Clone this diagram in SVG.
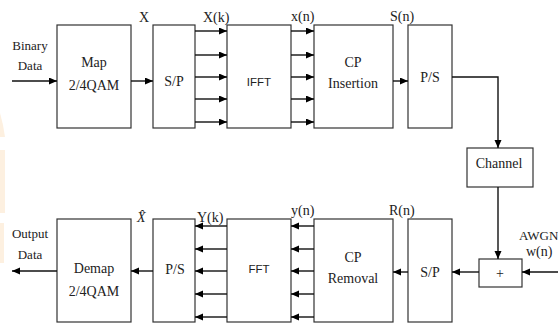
<svg xmlns="http://www.w3.org/2000/svg" width="558" height="324" viewBox="0 0 558 324">
  <defs>
    <marker id="arr" markerUnits="userSpaceOnUse" markerWidth="9" markerHeight="8" refX="8" refY="3.5" orient="auto">
      <path d="M0,0 L8,3.5 L0,7 z" fill="#000"/>
    </marker>
    <style>
      .box { fill: #fff; stroke: #333; stroke-width: 1.2; }
      .ln { fill: none; stroke: #111; stroke-width: 1.4; }
      .ar { fill: none; stroke: #111; stroke-width: 1.4; marker-end: url(#arr); }
      .t { font-family: "Liberation Serif", "Times New Roman", serif; font-size: 14px; fill: #222; }
      .s { font-size: 13px; }
      .m { text-anchor: middle; }
      .sans { font-family: "Liberation Sans", Arial, sans-serif; font-size: 11.5px; fill: #222; }
      .wm { fill: #fbe6cc; opacity: 0.6; }
    </style>
  </defs>
  <rect width="558" height="324" fill="#fff"/>

  <!-- faint edge marks -->
  <g id="edge-marks">
    <polygon class="wm" points="0,113 3,125 5,137 0,137"/>
    <rect class="wm" x="0" y="150" width="5" height="63"/>
    <rect class="wm" x="0" y="223" width="4" height="40"/>
  </g>

  <!-- transmitter -->
  <g id="map">
    <rect class="box" x="57" y="25" width="74" height="103"/>
    <text class="t m" x="94" y="67">Map</text>
    <text class="t m" x="94" y="90">2/4QAM</text>
  </g>
  <g id="sp-tx">
    <rect class="box" x="153" y="25" width="42" height="103"/>
    <text class="t m" x="174" y="86">S/P</text>
  </g>
  <g id="ifft">
    <rect class="box" x="227" y="25" width="64" height="103"/>
    <text class="sans m" x="259" y="86">IFFT</text>
  </g>
  <g id="cp-insertion">
    <rect class="box" x="314" y="25" width="79" height="103"/>
    <text class="t m" x="353" y="67">CP</text>
    <text class="t m" x="353" y="88">Insertion</text>
  </g>
  <g id="ps-tx">
    <rect class="box" x="408" y="25" width="44" height="103"/>
    <text class="t m" x="430" y="82">P/S</text>
  </g>

  <!-- channel -->
  <g id="channel">
    <rect class="box" x="467" y="148" width="66" height="39"/>
    <text class="t m" x="499" y="168">Channel</text>
  </g>
  <g id="adder">
    <rect class="box" x="479" y="259" width="43" height="28"/>
    <text class="t m" x="500" y="278">+</text>
  </g>

  <!-- receiver -->
  <g id="sp-rx">
    <rect class="box" x="408" y="219" width="44" height="103"/>
    <text class="t m" x="430" y="277">S/P</text>
  </g>
  <g id="cp-removal">
    <rect class="box" x="314" y="219" width="79" height="103"/>
    <text class="t m" x="353" y="262">CP</text>
    <text class="t m" x="353" y="283">Removal</text>
  </g>
  <g id="fft">
    <rect class="box" x="227" y="219" width="64" height="103"/>
    <text class="sans m" x="259" y="273">FFT</text>
  </g>
  <g id="ps-rx">
    <rect class="box" x="153" y="219" width="42" height="103"/>
    <text class="t m" x="175" y="274">P/S</text>
  </g>
  <g id="demap">
    <rect class="box" x="57" y="219" width="74" height="103"/>
    <text class="t m" x="94" y="273">Demap</text>
    <text class="t m" x="94" y="296">2/4QAM</text>
  </g>

  <!-- connectors -->
  <g id="connectors">
    <line class="ar" x1="12" y1="81" x2="57" y2="81"/>
    <line class="ar" x1="131" y1="81" x2="153" y2="81"/>
    <line class="ar" x1="195" y1="31" x2="227" y2="31"/>
    <line class="ar" x1="195" y1="55" x2="227" y2="55"/>
    <line class="ar" x1="195" y1="77" x2="227" y2="77"/>
    <line class="ar" x1="195" y1="99" x2="227" y2="99"/>
    <line class="ar" x1="195" y1="122" x2="227" y2="122"/>
    <line class="ar" x1="291" y1="31" x2="314" y2="31"/>
    <line class="ar" x1="291" y1="55" x2="314" y2="55"/>
    <line class="ar" x1="291" y1="77" x2="314" y2="77"/>
    <line class="ar" x1="291" y1="99" x2="314" y2="99"/>
    <line class="ar" x1="291" y1="122" x2="314" y2="122"/>
    <line class="ar" x1="393" y1="81" x2="408" y2="81"/>
    <polyline class="ar" points="452,77 498,77 498,148"/>
    <line class="ar" x1="498" y1="187" x2="498" y2="259"/>
    <line class="ar" x1="558" y1="272" x2="522" y2="272"/>
    <line class="ar" x1="479" y1="272" x2="452" y2="272"/>
    <line class="ar" x1="408" y1="272" x2="393" y2="272"/>
    <line class="ar" x1="314" y1="226" x2="291" y2="226"/>
    <line class="ar" x1="314" y1="249" x2="291" y2="249"/>
    <line class="ar" x1="314" y1="271" x2="291" y2="271"/>
    <line class="ar" x1="314" y1="294" x2="291" y2="294"/>
    <line class="ar" x1="314" y1="317" x2="291" y2="317"/>
    <line class="ar" x1="227" y1="226" x2="195" y2="226"/>
    <line class="ar" x1="227" y1="249" x2="195" y2="249"/>
    <line class="ar" x1="227" y1="271" x2="195" y2="271"/>
    <line class="ar" x1="227" y1="294" x2="195" y2="294"/>
    <line class="ar" x1="227" y1="317" x2="195" y2="317"/>
    <line class="ar" x1="153" y1="271" x2="131" y2="271"/>
    <line class="ar" x1="57" y1="271" x2="12" y2="271"/>
  </g>

  <!-- signal labels -->
  <g id="labels">
    <text class="t s m" x="30" y="50">Binary</text>
    <text class="t s m" x="30" y="70">Data</text>
    <text class="t" x="139" y="22">X</text>
    <text class="t" x="203" y="22">X(k)</text>
    <text class="t" x="291" y="21">x(n)</text>
    <text class="t" x="390" y="21">S(n)</text>
    <text class="t s" x="519" y="240">AWGN</text>
    <text class="t" x="526" y="256">w(n)</text>
    <text class="t" x="291" y="215">y(n)</text>
    <text class="t" x="389" y="215">R(n)</text>
    <text class="t" x="197" y="222">Y(k)</text>
    <text class="t" x="137" y="222" font-style="italic">X̂</text>
    <text class="t s m" x="30" y="238">Output</text>
    <text class="t s m" x="30" y="259">Data</text>
  </g>
</svg>
